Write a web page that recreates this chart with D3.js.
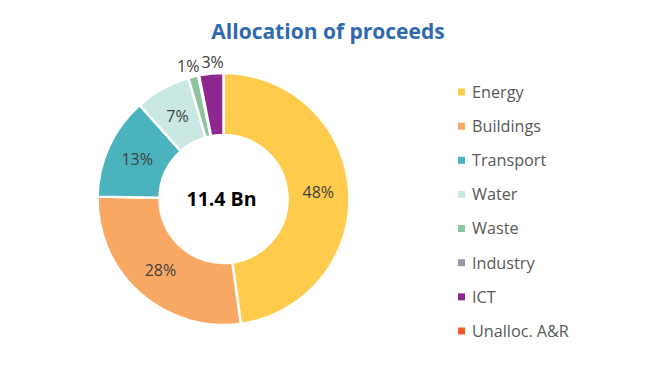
<!DOCTYPE html>
<html><head><meta charset="utf-8">
<script src="https://cdn.jsdelivr.net/npm/d3@7"></script>
<style>body{margin:0;background:#fff;} svg{display:block;}</style>
</head><body>
<svg id="c" width="659" height="367"></svg>
<script>
const categories = ["Energy","Buildings","Transport","Water","Waste","Industry","ICT","Unalloc. A&R"];
const values = [47.8, 27.5, 13.1, 7.1, 1.3, 0.1, 3.1, 0];
const colors = ["#FFCB4C","#F9A863","#4BB3BE","#C9E8E4","#8DC4A0","#9899A6","#8E278F","#F15A2B"];
const title = "Allocation of proceeds";
const centerText = "11.4 Bn";

const svg = d3.select("#c");
const font = "'Open Sans', 'Noto Sans', sans-serif";
svg.append("text").attr("x",328).attr("y",39).attr("text-anchor","middle")
  .attr("font-family",font).attr("font-weight","bold").attr("font-size",21)
  .attr("fill","#2F6AAE").text(title);

const cx = 223.5, cy = 199, R = 126, r = 64;
const g = svg.append("g").attr("transform",`translate(${cx},${cy})`);
const total = d3.sum(values);
const pie = d3.pie().sort(null).value(d=>d.v);
const data = categories.map((c,i)=>({c, v: values[i], col: colors[i]}));
const arcs = pie(data);
const arc = d3.arc().innerRadius(r).outerRadius(R);
g.selectAll("path").data(arcs.filter(a=>a.data.v>0)).enter().append("path")
  .attr("d",arc).attr("fill",d=>d.data.col).attr("stroke","#fff").attr("stroke-width",2.5)
  .attr("stroke-linejoin","miter");

const outerArc = d3.arc().innerRadius(137).outerRadius(137);
const lbls = g.selectAll("text.lbl").data(arcs.filter(a=>a.data.v>=0.5)).enter().append("text")
  .attr("class","lbl")
  .attr("text-anchor","middle").attr("dy","0.36em")
  .attr("font-family",font).attr("font-size",16).attr("fill","#404040")
  .text(d=>Math.round(d.data.v/total*100)+"%");
lbls.each(function(d){
  d.outside = d.data.v/total < 0.05;
  d.pos = d.outside ? outerArc.centroid(d) : arc.centroid(d);
  d.w = this.getComputedTextLength();
});
// resolve horizontal overlaps between outside labels
const outs = lbls.data().filter(d=>d.outside).sort((a,b)=>a.pos[0]-b.pos[0]);
for(let i=1;i<outs.length;i++){
  const a=outs[i-1], b=outs[i];
  const need = (a.w+b.w)/2 + 2 - (b.pos[0]-a.pos[0]);
  if(need>0 && Math.abs(a.pos[1]-b.pos[1])<14){ a.pos[0]-=need/2; b.pos[0]+=need/2; }
}
lbls.attr("transform",d=>`translate(${d.pos[0]},${d.pos[1]})`);

g.append("text").attr("x",-2).attr("y",0).attr("dy","0.36em").attr("text-anchor","middle")
  .attr("font-family",font).attr("font-weight","bold").attr("font-size",19.5).attr("fill","#000")
  .text(centerText);

const y = d3.scalePoint().domain(categories).range([92,331]);
const lg = svg.append("g");
const items = lg.selectAll("g").data(data).enter().append("g")
  .attr("transform",d=>`translate(458,${y(d.c)})`);
items.append("rect").attr("x",0).attr("y",-3.5).attr("width",7).attr("height",7).attr("fill",d=>d.col);
items.append("text").attr("x",14).attr("dy","0.36em").attr("font-family",font)
  .attr("font-size",16.2).attr("fill","#595959").text(d=>d.c);
</script>
</body></html>
